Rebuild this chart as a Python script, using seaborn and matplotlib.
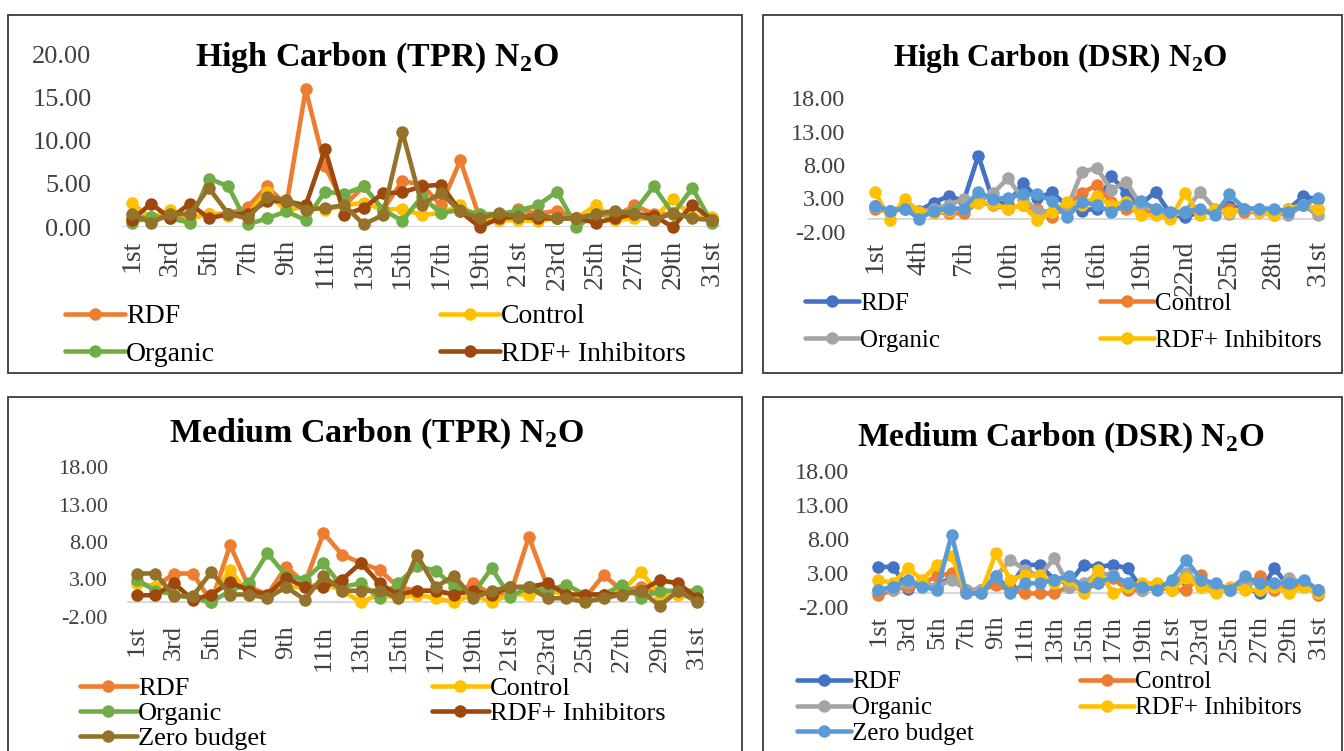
import pandas as pd
import matplotlib
matplotlib.use("Agg")
import matplotlib.pyplot as plt
from matplotlib.lines import Line2D
from matplotlib.patches import Rectangle
import seaborn as sns

# Days of the month
days = list(range(1, 32))

# High Carbon (TPR)
tl_rdf = [1.0, 1.2, 1.5, 1.0, 1.5, 1.5, 2.3, 4.7, 2.5, 15.9, 7.0, 2.5, 4.7, 2.0, 5.3, 4.9, 2.5, 7.7, 1.0, 0.8, 2.1, 1.5, 1.9, 1.0, 1.5, 1.2, 2.5, 1.5, 1.5, 1.2, 1.0]
tl_control = [2.8, 1.0, 2.0, 1.0, 1.5, 1.3, 1.5, 4.1, 1.8, 2.5, 2.0, 2.5, 2.8, 2.0, 2.1, 1.4, 1.6, 2.5, 1.0, 0.8, 0.8, 0.7, 1.0, 1.0, 2.5, 0.8, 1.0, 1.0, 3.2, 1.2, 1.2]
tl_organic = [0.5, 1.2, 1.0, 0.5, 5.6, 4.7, 0.3, 1.0, 1.8, 0.8, 4.1, 3.8, 4.7, 2.0, 0.7, 3.5, 1.6, 2.0, 1.5, 1.5, 1.9, 2.5, 4.1, 0.0, 1.5, 1.5, 1.8, 4.7, 1.5, 4.5, 0.5]
tl_inhib = [0.8, 2.7, 1.0, 2.7, 1.0, 1.5, 1.5, 3.0, 3.0, 2.5, 9.0, 1.4, 2.2, 3.9, 4.0, 4.7, 4.9, 1.8, 0.0, 1.0, 1.2, 1.0, 1.0, 1.0, 0.5, 1.0, 1.5, 1.3, 0.0, 2.6, 0.8]
tl_zero = [1.5, 0.5, 1.5, 1.5, 4.5, 1.5, 1.0, 3.5, 3.1, 2.0, 2.2, 2.5, 0.3, 1.4, 11.0, 2.6, 3.9, 1.8, 1.0, 1.6, 1.2, 1.4, 1.0, 1.0, 1.5, 1.9, 1.5, 0.8, 1.6, 1.0, 0.8]

# High Carbon (DSR)
tr_rdf = [1.9, 1.2, 1.7, 1.2, 2.4, 3.4, 2.6, 9.4, 2.6, 2.1, 5.3, 3.1, 3.9, 1.9, 1.2, 1.5, 6.4, 3.8, 2.1, 4.0, 0.7, 0.2, 1.0, 1.2, 1.9, 1.4, 1.2, 1.0, 1.4, 3.3, 2.9]
tr_control = [1.5, 1.0, 1.5, 1.0, 1.0, 0.8, 0.8, 2.5, 2.0, 1.5, 2.0, 1.5, 0.3, 2.0, 3.8, 5.0, 2.5, 1.5, 1.0, 1.0, 0.5, 1.0, 1.0, 1.0, 1.5, 1.0, 1.0, 0.5, 1.0, 2.0, 1.5]
tr_organic = [1.8, 1.2, 1.5, 1.0, 1.5, 2.0, 2.9, 2.5, 3.8, 6.0, 3.0, 1.2, 1.0, 1.5, 6.9, 7.6, 4.3, 5.5, 2.0, 1.5, 0.5, 1.0, 4.0, 1.5, 0.7, 1.5, 1.5, 1.0, 0.5, 2.0, 0.5]
tr_inhib = [4.0, -0.2, 2.9, 1.0, 0.8, 1.2, 1.5, 2.4, 2.2, 1.5, 2.0, -0.2, 1.0, 2.5, 2.0, 3.3, 2.0, 2.5, 0.5, 0.5, 0.0, 3.8, 0.5, 1.5, 1.0, 1.5, 1.0, 0.5, 1.5, 2.0, 1.5]
tr_zero = [1.9, 1.2, 1.5, 0.0, 1.2, 1.5, 1.5, 4.0, 2.9, 3.1, 3.6, 3.6, 2.6, 0.2, 2.5, 2.0, 1.0, 2.0, 2.6, 1.5, 1.0, 1.0, 1.5, 0.5, 3.6, 1.5, 1.5, 1.5, 1.0, 2.0, 3.1]

# Medium Carbon (TPR)
bl_rdf = [2.5, 2.0, 3.8, 3.8, 0.0, 7.6, 2.0, 1.0, 4.7, 2.5, 9.2, 6.3, 5.2, 4.3, 2.0, 1.5, 1.5, 1.0, 2.5, 1.0, 1.0, 8.7, 2.0, 1.0, 0.5, 3.6, 1.5, 2.0, 1.0, 1.5, 0.5]
bl_control = [2.5, 2.0, 1.0, 0.5, 0.5, 4.3, 1.0, 0.8, 2.0, 2.0, 2.5, 1.5, 0.0, 1.0, 0.5, 1.0, 0.5, 0.0, 1.0, 0.0, 1.0, 1.0, 1.5, 1.0, 0.5, 1.0, 1.5, 4.0, 1.0, 1.0, 0.5]
bl_organic = [3.0, 1.5, 1.0, 0.5, 0.0, 1.5, 2.5, 6.5, 3.5, 3.0, 5.2, 2.0, 2.5, 0.5, 2.5, 4.8, 4.2, 2.0, 1.0, 4.5, 0.7, 2.0, 1.5, 2.3, 1.0, 1.0, 2.3, 0.5, 1.5, 1.5, 1.5]
bl_inhib = [0.9, 0.9, 2.5, 0.3, 1.0, 2.7, 1.5, 1.0, 3.2, 2.0, 2.0, 3.0, 5.2, 2.5, 1.0, 1.5, 1.5, 1.0, 1.5, 1.0, 2.0, 2.0, 2.5, 1.0, 1.0, 1.0, 1.0, 1.5, 2.9, 2.5, 0.5]
bl_zero = [3.8, 3.8, 0.8, 0.8, 4.0, 1.0, 1.0, 0.5, 2.0, 0.3, 3.5, 1.5, 1.5, 1.5, 0.5, 6.3, 2.0, 3.5, 0.5, 1.5, 2.0, 2.0, 0.5, 0.5, 0.0, 0.5, 1.0, 1.5, -0.5, 1.5, 0.0]

# Medium Carbon (DSR)
br_rdf = [3.9, 3.9, 0.7, 1.5, 1.0, 2.5, 0.5, 0.5, 2.0, 1.0, 4.2, 4.2, 2.0, 1.5, 4.2, 3.9, 4.2, 3.7, 0.5, 1.0, 1.5, 2.0, 1.5, 1.0, 0.5, 1.0, 0.0, 3.7, 1.0, 1.5, 0.5]
br_control = [-0.3, 0.5, 1.0, 1.5, 2.5, 3.0, 0.5, 0.5, 1.2, 0.5, 0.0, 0.0, 0.0, 1.0, 0.5, 1.5, 2.2, 0.5, 0.5, 1.0, 0.5, 0.5, 2.7, 0.5, 0.5, 1.0, 2.5, 0.5, 1.0, 1.5, -0.3]
br_organic = [0.5, 0.5, 1.5, 1.5, 1.0, 2.0, 0.5, 0.5, 2.5, 4.9, 3.5, 2.5, 5.2, 1.0, 1.5, 3.0, 2.7, 1.5, 0.5, 1.0, 1.5, 3.0, 1.5, 1.0, 0.5, 1.5, 1.5, 1.0, 2.2, 1.5, 0.5]
br_inhib = [2.0, 1.5, 3.7, 2.0, 4.2, 5.5, 0.0, 0.0, 5.9, 2.0, 2.7, 2.7, 1.5, 2.0, 0.0, 3.5, 0.0, 1.0, 1.5, 1.5, 0.5, 2.2, 1.0, 0.0, 1.0, 0.5, 0.5, 1.0, 0.0, 1.0, 0.0]
br_zero = [0.5, 1.0, 2.0, 1.0, 0.5, 8.6, 0.0, 0.0, 2.5, 0.0, 1.5, 1.5, 2.0, 2.5, 1.0, 1.5, 2.5, 1.5, 1.0, 0.5, 2.0, 4.9, 2.0, 1.5, 0.5, 2.5, 1.5, 1.5, 1.5, 2.0, 0.5]

series_names = ["RDF", "Control", "Organic", "RDF+ Inhibitors", "Zero budget"]
tpr_colors = ["#ED7D31", "#FFC000", "#70AD47", "#9E480E", "#94722A"]
dsr_colors = ["#4472C4", "#ED7D31", "#A5A5A5", "#FFC000", "#5B9BD5"]

sns.set_theme(style="white")
plt.rcParams["font.family"] = ["Liberation Serif", "DejaVu Serif"]
plt.rcParams["mathtext.fontset"] = "custom"
plt.rcParams["mathtext.rm"] = "Liberation Serif"
plt.rcParams["mathtext.bf"] = "Liberation Serif:bold"

W, H = 1344, 751
fig = plt.figure(figsize=(W / 100, H / 100), dpi=100)


def fx(px):
    return px / W


def fy(py):
    return 1 - py / H


def ordinal(d):
    if d in (1, 21, 31):
        return f"{d}st"
    if d in (2, 22):
        return f"{d}nd"
    if d in (3, 23):
        return f"{d}rd"
    return f"{d}th"


panels = [
    dict(title="High Carbon (TPR)", data=[tl_rdf, tl_control, tl_organic, tl_inhib, tl_zero],
         colors=tpr_colors, box=(8, 15, 742, 373), ax=(122, 721.4, 54, 227), ylim=(0, 20),
         yticks=[0, 5, 10, 15, 20], xstep=2, title_xy=(377, 58), tfs=24.5, yfs=19, xfs=20,
         ypad=22, xpad=9, leg=(65, 440, 304), lfs=20, nleg=4, ls=0.43),
    dict(title="High Carbon (DSR)", data=[tr_rdf, tr_control, tr_organic, tr_inhib, tr_zero],
         colors=dsr_colors, box=(763, 15, 1342, 373), ax=(867.6, 1325.4, 98, 232), ylim=(-2, 18),
         yticks=[-2, 3, 8, 13, 18], xstep=3, title_xy=(1060, 58), tfs=22.5, yfs=17.5, xfs=20,
         ypad=16, xpad=6, leg=(805, 1100, 292), lfs=18, nleg=4, ls=0.6),
    dict(title="Medium Carbon (TPR)", data=[bl_rdf, bl_control, bl_organic, bl_inhib, bl_zero],
         colors=tpr_colors, box=(8, 397, 742, 760), ax=(127.4, 706.3, 467, 617), ylim=(-2, 18),
         yticks=[-2, 3, 8, 13, 18], xstep=2, title_xy=(376, 434), tfs=24.5, yfs=16, xfs=19,
         ypad=14, xpad=6, leg=(80, 432, 677), lfs=19, nleg=5, ls=0.05),
    dict(title="Medium Carbon (DSR)", data=[br_rdf, br_control, br_organic, br_inhib, br_zero],
         colors=dsr_colors, box=(763, 397, 1342, 760), ax=(871, 1325.6, 471, 607), ylim=(-2, 18),
         yticks=[-2, 3, 8, 13, 18], xstep=2, title_xy=(1061, 438), tfs=24, yfs=17.5, xfs=19,
         ypad=16, xpad=6, leg=(797, 1080, 671), lfs=18, nleg=5, ls=0.13),
]

for p in panels:
    # panel frame
    x0, y0, x1, y1 = p["box"]
    fig.patches.append(Rectangle((fx(x0), fy(y1)), fx(x1 - x0), (y1 - y0) / H,
                                 transform=fig.transFigure, fill=False,
                                 edgecolor="#3a3a3a", linewidth=1.3))

    left, right, top, bottom = p["ax"]
    ax = fig.add_axes([fx(left), fy(bottom), fx(right - left), (bottom - top) / H])

    df = pd.DataFrame({name: vals for name, vals in zip(series_names, p["data"])})
    df["day"] = days
    long = df.melt(id_vars="day", var_name="series", value_name="value")

    ax.axhline(0, color="#D9D9D9", linewidth=1.5, zorder=1)
    sns.lineplot(data=long, x="day", y="value", hue="series", hue_order=series_names,
                 palette=p["colors"], marker="o", markersize=9, markeredgewidth=0,
                 linewidth=3.3, legend=False, ax=ax, clip_on=False, zorder=3)

    ax.set_xlim(0.5, 31.5)
    ax.set_ylim(*p["ylim"])
    ax.set_yticks(p["yticks"])
    ax.set_yticklabels([f"{v:.2f}" for v in p["yticks"]])
    xt = list(range(1, 32, p["xstep"]))
    ax.set_xticks(xt)
    ax.set_xticklabels([ordinal(d) for d in xt], rotation=90)
    ax.tick_params(axis="y", length=0, pad=p["ypad"], labelsize=p["yfs"], labelcolor="#404040")
    ax.tick_params(axis="x", length=0, pad=p["xpad"], labelsize=p["xfs"], labelcolor="#404040")
    ax.set_xlabel("")
    ax.set_ylabel("")
    for s in ax.spines.values():
        s.set_visible(False)
    ax.grid(False)

    # title
    fig.text(fx(p["title_xy"][0]), fy(p["title_xy"][1]),
             p["title"] + r" N$_{\mathbf{2}}$O", ha="center", va="center",
             fontsize=p["tfs"], fontweight="bold", color="black")

    # legend, two columns as in the source
    handles = [Line2D([], [], color=c, marker="o", markersize=9, markeredgewidth=0,
                      linewidth=3.3) for c in p["colors"]]
    n = p["nleg"]
    col1 = [i for i in (0, 2, 4) if i < n]
    col2 = [i for i in (1, 3) if i < n]
    lx1, lx2, ltop = p["leg"]
    for cols, lx in ((col1, lx1), (col2, lx2)):
        fig.legend([handles[i] for i in cols], [series_names[i] for i in cols],
                   loc="upper left", bbox_to_anchor=(fx(lx), fy(ltop)),
                   frameon=False, fontsize=p["lfs"], handlelength=2.15,
                   handletextpad=0.05, borderpad=0, borderaxespad=0,
                   labelspacing=p["ls"], labelcolor="black")

fig.savefig("out.png", dpi=100, facecolor="white")
